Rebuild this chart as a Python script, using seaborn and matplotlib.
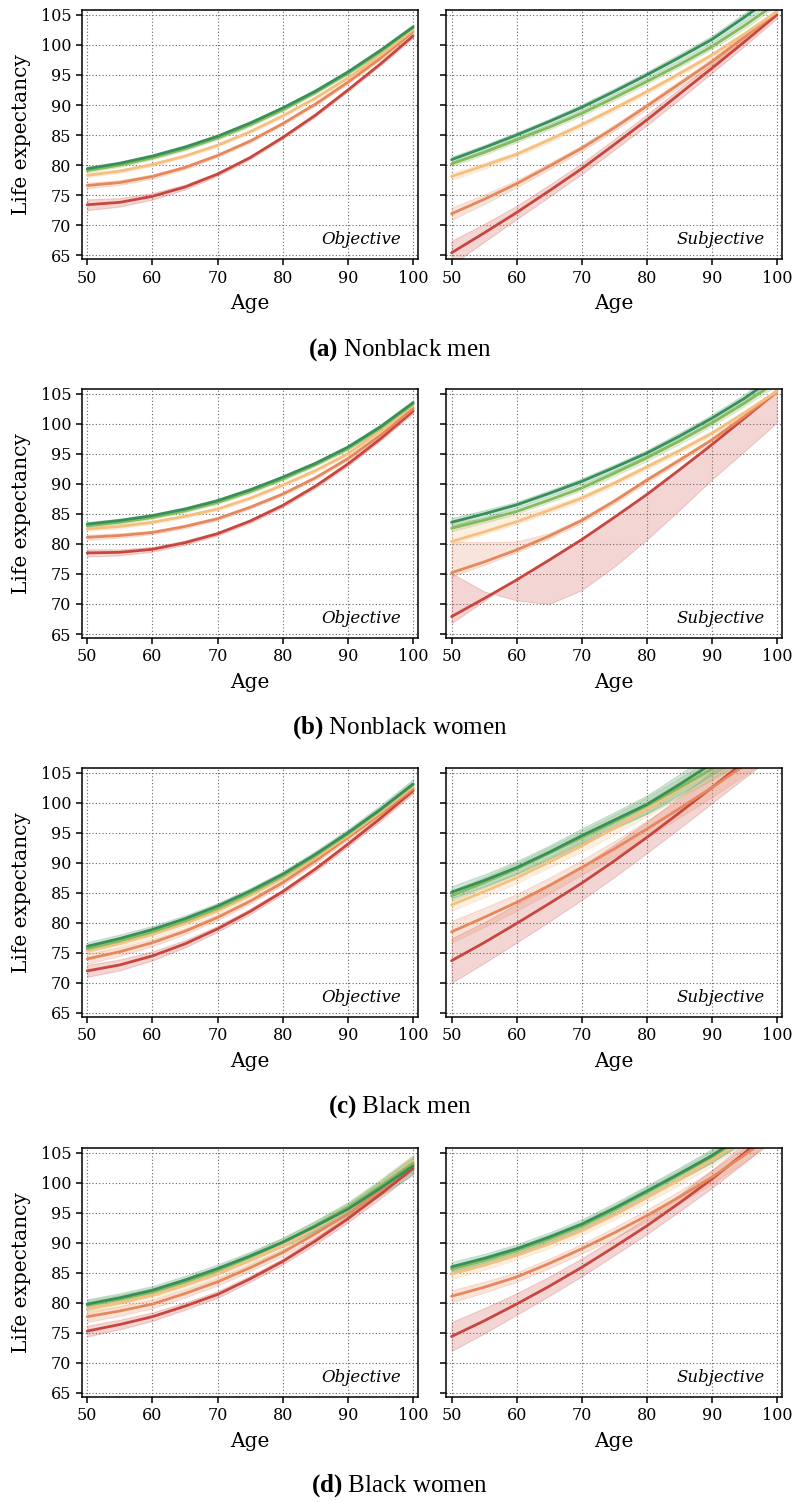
import matplotlib.pyplot as plt
import numpy as np
import pandas as pd
import seaborn as sns

ages = [50, 55, 60, 65, 70, 75, 80, 85, 90, 95, 100]
groups = ['1', '2', '3', '4', '5']
colors = ['#c9463f', '#e6875c', '#f6bf7e', '#86ba5f', '#379059']

# (a) Nonblack men, objective
nbm_obj = [
    [73.4, 73.8, 74.8, 76.35, 78.5, 81.25, 84.6, 88.3, 92.5, 96.85, 101.5],
    [76.6, 77.1, 78.1, 79.6, 81.6, 84.0, 86.9, 90.15, 93.8, 97.8, 102.2],
    [78.3, 79.0, 80.1, 81.5, 83.3, 85.55, 88.2, 91.15, 94.5, 98.3, 102.5],
    [79.1, 80.0, 81.2, 82.7, 84.5, 86.7, 89.2, 92.1, 95.3, 98.9, 102.9],
    [79.4, 80.3, 81.5, 83.0, 84.8, 87.0, 89.5, 92.3, 95.5, 99.1, 103.0],
]
nbm_obj_ci = [
    [0.9, 0.7, 0.55, 0.4, 0.3, 0.25, 0.25, 0.25, 0.25, 0.25, 0.3],
    [0.45, 0.4, 0.35, 0.3, 0.25, 0.25, 0.25, 0.25, 0.25, 0.25, 0.3],
    [0.3, 0.3, 0.25, 0.25, 0.25, 0.25, 0.25, 0.25, 0.25, 0.25, 0.3],
    [0.3, 0.3, 0.25, 0.25, 0.25, 0.25, 0.25, 0.25, 0.25, 0.3, 0.3],
    [0.35, 0.3, 0.3, 0.3, 0.3, 0.3, 0.3, 0.3, 0.3, 0.35, 0.4],
]
# (a) Nonblack men, subjective
nbm_subj = [
    [65.4, 68.7, 72.1, 75.7, 79.4, 83.4, 87.5, 91.8, 96.1, 100.5, 105.0],
    [71.9, 74.3, 76.9, 79.8, 82.8, 86.2, 89.8, 93.5, 97.2, 101.3, 105.5],
    [78.1, 79.9, 81.8, 84.2, 86.7, 89.4, 92.2, 95.2, 98.3, 101.8, 105.5],
    [80.2, 82.1, 84.2, 86.3, 88.6, 91.2, 93.9, 96.7, 99.7, 103.2, 107.0],
    [80.9, 82.9, 85.0, 87.25, 89.6, 92.25, 95.0, 97.9, 100.9, 104.6, 108.5],
]
nbm_subj_ci = [
    [2.0, 1.5, 1.1, 1.0, 0.9, 0.9, 0.9, 0.9, 0.8, 0.7, 0.6],
    [1.0, 0.8, 0.6, 0.5, 0.5, 0.5, 0.5, 0.5, 0.5, 0.5, 0.5],
    [0.6, 0.5, 0.4, 0.4, 0.4, 0.4, 0.4, 0.4, 0.4, 0.4, 0.4],
    [0.4, 0.4, 0.4, 0.4, 0.4, 0.4, 0.4, 0.4, 0.4, 0.5, 0.5],
    [0.5, 0.45, 0.45, 0.45, 0.5, 0.5, 0.55, 0.6, 0.6, 0.7, 0.7],
]

# (b) Nonblack women, objective
nbw_obj = [
    [78.5, 78.6, 79.1, 80.2, 81.7, 83.8, 86.4, 89.6, 93.3, 97.5, 102.1],
    [81.1, 81.4, 81.9, 82.9, 84.2, 86.1, 88.3, 91.0, 94.2, 98.1, 102.5],
    [82.5, 82.9, 83.6, 84.6, 85.8, 87.6, 89.8, 92.2, 95.0, 98.8, 103.1],
    [83.0, 83.6, 84.4, 85.5, 86.9, 88.7, 90.8, 93.2, 95.9, 99.3, 103.3],
    [83.3, 83.9, 84.7, 85.8, 87.2, 89.0, 91.1, 93.4, 96.1, 99.5, 103.5],
]
nbw_obj_ci = [
    [0.6, 0.5, 0.4, 0.35, 0.3, 0.3, 0.3, 0.3, 0.3, 0.3, 0.35],
    [0.4, 0.35, 0.3, 0.3, 0.25, 0.25, 0.25, 0.25, 0.25, 0.3, 0.3],
    [0.3, 0.3, 0.25, 0.25, 0.25, 0.25, 0.25, 0.25, 0.25, 0.3, 0.3],
    [0.3, 0.3, 0.25, 0.25, 0.25, 0.25, 0.25, 0.25, 0.3, 0.3, 0.35],
    [0.35, 0.3, 0.3, 0.3, 0.3, 0.3, 0.3, 0.3, 0.35, 0.4, 0.4],
]
# (b) Nonblack women, subjective (bands read as edges)
nbw_subj = [
    [67.9, 70.9, 74.0, 77.3, 80.7, 84.4, 88.2, 92.3, 96.5, 100.9, 105.4],
    [75.2, 77.0, 79.0, 81.3, 83.9, 87.1, 90.6, 93.9, 97.3, 101.2, 105.4],
    [80.4, 82.0, 83.7, 85.6, 87.6, 90.1, 92.8, 95.5, 98.4, 101.8, 105.4],
    [82.6, 83.95, 85.4, 87.3, 89.3, 91.75, 94.3, 97.1, 100.1, 103.4, 107.0],
    [83.6, 85.0, 86.5, 88.4, 90.4, 92.7, 95.1, 97.9, 100.9, 104.2, 108.0],
]
nbw_subj_lo = [
    [75.1, 72.1, 70.6, 70.0, 72.3, 76.2, 80.7, 85.6, 90.7, 95.4, 100.2],
    [74.6, 76.5, 78.6, 80.9, 83.5, 86.7, 90.2, 93.5, 96.9, 100.8, 105.0],
    [80.0, 81.6, 83.3, 85.2, 87.2, 89.7, 92.4, 95.1, 98.0, 101.4, 105.0],
    [82.1, 83.5, 85.0, 86.9, 88.9, 91.3, 93.8, 96.6, 99.6, 102.9, 106.4],
    [82.9, 84.4, 86.0, 87.9, 89.9, 92.2, 94.6, 97.3, 100.3, 103.5, 107.2],
]
nbw_subj_hi = [
    [66.8, 70.5, 74.3, 77.6, 81.0, 84.7, 88.5, 92.6, 96.8, 101.2, 105.7],
    [80.4, 80.3, 80.4, 81.8, 84.3, 87.5, 91.0, 94.3, 97.7, 101.6, 105.8],
    [84.0, 84.0, 84.8, 86.2, 88.1, 90.5, 93.2, 95.9, 98.8, 102.2, 105.8],
    [83.1, 84.4, 85.8, 87.7, 89.7, 92.2, 94.8, 97.6, 100.6, 103.9, 107.6],
    [84.3, 85.6, 87.0, 88.9, 90.9, 93.2, 95.6, 98.5, 101.5, 104.9, 108.8],
]

# (c) Black men, objective
bm_obj = [
    [72.0, 73.0, 74.5, 76.5, 79.0, 81.9, 85.2, 88.95, 93.1, 97.4, 102.0],
    [74.0, 75.2, 76.7, 78.6, 80.9, 83.6, 86.7, 90.3, 94.2, 98.1, 102.3],
    [75.4, 76.65, 78.1, 79.9, 82.0, 84.6, 87.5, 90.8, 94.5, 98.45, 102.7],
    [75.7, 77.0, 78.5, 80.3, 82.4, 84.95, 87.8, 91.15, 94.8, 98.75, 103.0],
    [76.1, 77.4, 78.9, 80.7, 82.8, 85.3, 88.1, 91.4, 95.0, 98.9, 103.1],
]
bm_obj_ci = [
    [1.0, 0.9, 0.75, 0.6, 0.5, 0.45, 0.4, 0.4, 0.4, 0.45, 0.5],
    [0.8, 0.7, 0.6, 0.5, 0.45, 0.4, 0.4, 0.4, 0.4, 0.5, 0.6],
    [0.7, 0.6, 0.55, 0.5, 0.45, 0.4, 0.4, 0.4, 0.45, 0.5, 0.6],
    [0.6, 0.55, 0.5, 0.45, 0.45, 0.45, 0.45, 0.45, 0.5, 0.55, 0.65],
    [0.7, 0.65, 0.6, 0.55, 0.5, 0.5, 0.5, 0.55, 0.6, 0.7, 0.8],
]
# (c) Black men, subjective
bm_subj = [
    [73.7, 76.7, 79.9, 83.2, 86.6, 90.3, 94.2, 98.3, 102.5, 106.8, 111.0],
    [78.5, 80.9, 83.4, 86.2, 89.2, 92.3, 95.6, 99.0, 102.5, 106.2, 110.0],
    [83.0, 85.2, 87.5, 90.1, 92.8, 95.8, 98.9, 102.2, 105.6, 109.0, 112.5],
    [84.5, 86.7, 89.0, 91.6, 94.2, 96.8, 99.5, 102.5, 105.6, 109.0, 112.5],
    [85.1, 87.05, 89.2, 91.75, 94.5, 97.1, 99.7, 103.0, 106.5, 110.0, 113.5],
]
bm_subj_ci = [
    [3.7, 3.4, 3.2, 3.0, 2.8, 2.7, 2.6, 2.6, 2.6, 2.7, 2.8],
    [1.8, 1.6, 1.4, 1.3, 1.2, 1.3, 1.4, 1.5, 1.6, 1.7, 1.8],
    [1.0, 0.95, 0.9, 0.9, 1.0, 1.1, 1.2, 1.3, 1.4, 1.5, 1.6],
    [0.9, 0.9, 0.95, 1.0, 1.1, 1.2, 1.4, 1.6, 1.8, 2.0, 2.2],
    [1.0, 1.0, 1.05, 1.1, 1.2, 1.3, 1.5, 1.7, 1.9, 2.1, 2.3],
]

# (d) Black women, objective
bw_obj = [
    [75.3, 76.4, 77.7, 79.45, 81.4, 84.0, 86.9, 90.3, 94.0, 98.1, 102.4],
    [77.7, 78.65, 79.8, 81.55, 83.5, 85.85, 88.4, 91.5, 94.8, 98.8, 103.1],
    [79.0, 80.05, 81.3, 82.95, 84.8, 87.05, 89.5, 92.45, 95.6, 99.5, 103.6],
    [79.6, 80.6, 81.8, 83.5, 85.4, 87.65, 90.1, 92.9, 95.9, 99.5, 103.3],
    [79.8, 80.85, 82.1, 83.8, 85.7, 87.8, 90.1, 92.75, 95.6, 99.1, 102.8],
]
bw_obj_ci = [
    [0.9, 0.8, 0.7, 0.6, 0.55, 0.5, 0.5, 0.55, 0.6, 0.7, 0.8],
    [0.9, 0.8, 0.7, 0.65, 0.6, 0.6, 0.6, 0.65, 0.7, 0.8, 0.9],
    [0.8, 0.75, 0.7, 0.65, 0.6, 0.6, 0.65, 0.7, 0.8, 0.9, 1.0],
    [0.8, 0.75, 0.7, 0.65, 0.65, 0.65, 0.7, 0.8, 0.9, 1.1, 1.3],
    [0.8, 0.75, 0.7, 0.7, 0.7, 0.7, 0.75, 0.85, 1.0, 1.2, 1.5],
]
# (d) Black women, subjective
bw_subj = [
    [74.4, 77.0, 79.8, 82.75, 85.9, 89.3, 92.8, 96.6, 100.6, 104.9, 109.5],
    [81.1, 82.6, 84.3, 86.55, 89.0, 91.65, 94.5, 97.6, 100.9, 104.6, 108.5],
    [84.8, 86.25, 87.9, 89.8, 92.0, 94.6, 97.5, 100.5, 103.8, 107.5, 111.0],
    [85.6, 87.05, 88.7, 90.65, 92.8, 95.5, 98.4, 101.3, 104.3, 107.8, 111.3],
    [86.0, 87.4, 89.0, 90.95, 93.1, 95.75, 98.6, 101.5, 104.5, 108.0, 111.5],
]
bw_subj_ci = [
    [2.4, 2.1, 1.8, 1.6, 1.5, 1.4, 1.4, 1.4, 1.5, 1.6, 1.7],
    [1.0, 0.9, 0.8, 0.8, 0.8, 0.9, 1.0, 1.0, 1.1, 1.2, 1.3],
    [0.8, 0.75, 0.7, 0.7, 0.7, 0.75, 0.8, 0.9, 1.0, 1.1, 1.2],
    [0.7, 0.7, 0.7, 0.7, 0.75, 0.8, 0.85, 0.9, 1.0, 1.1, 1.2],
    [0.8, 0.75, 0.75, 0.75, 0.8, 0.85, 0.9, 1.0, 1.1, 1.2, 1.3],
]

captions = [r'$\mathbf{(a)}$ Nonblack men', r'$\mathbf{(b)}$ Nonblack women',
            r'$\mathbf{(c)}$ Black men', r'$\mathbf{(d)}$ Black women']


def bounds(means, ci):
    m = np.array(means)
    c = np.array(ci)
    return m - c, m + c


def draw_panel(ax, means, lows, highs, label, left):
    for lo, hi, c in zip(lows, highs, colors):
        ax.fill_between(ages, lo, hi, color=c, alpha=0.22, linewidth=0.8)
    df = pd.DataFrame({
        'Age': np.tile(ages, len(groups)),
        'LE': np.concatenate(means),
        'group': np.repeat(groups, len(ages)),
    })
    sns.lineplot(data=df, x='Age', y='LE', hue='group', palette=colors,
                 linewidth=2.0, legend=False, ax=ax)
    ax.set_xlim(49.15, 100.75)
    ax.set_ylim(64.33, 105.83)
    ax.set_xticks(range(50, 101, 10))
    ax.set_yticks(range(65, 106, 5))
    ax.grid(True, linestyle=(0, (1, 2)), color='0.4', linewidth=0.8)
    ax.tick_params(labelsize=11.5, length=4, width=1.1, color='black', labelcolor='black')
    for s in ax.spines.values():
        s.set_linewidth(1.1)
        s.set_color('black')
    ax.set_xlabel('Age', fontsize=14.5, labelpad=5.5)
    if left:
        ax.set_ylabel('Life expectancy', fontsize=14.5, labelpad=7)
    else:
        ax.set_ylabel('')
        ax.set_yticklabels([])
    ax.text(0.95, 0.08, label, transform=ax.transAxes, ha='right', va='center',
            style='italic', fontsize=12)


sns.set_style('ticks')
plt.rcParams['font.family'] = ['DejaVu Serif']
plt.rcParams['text.color'] = 'black'
plt.rcParams['axes.labelcolor'] = 'black'
plt.rcParams['mathtext.fontset'] = 'custom'
plt.rcParams['mathtext.bf'] = 'Liberation Serif:bold'
plt.rcParams['mathtext.rm'] = 'Liberation Serif'

fig = plt.figure(figsize=(7.96, 15.02), dpi=100)

panels = [
    (nbm_obj, bounds(nbm_obj, nbm_obj_ci), nbm_subj, bounds(nbm_subj, nbm_subj_ci)),
    (nbw_obj, bounds(nbw_obj, nbw_obj_ci), nbw_subj, (nbw_subj_lo, nbw_subj_hi)),
    (bm_obj, bounds(bm_obj, bm_obj_ci), bm_subj, bounds(bm_subj, bm_subj_ci)),
    (bw_obj, bounds(bw_obj, bw_obj_ci), bw_subj, bounds(bw_subj, bw_subj_ci)),
]
row_bottoms = [0.8274, 0.5752, 0.3229, 0.0699]
caption_y = [0.767, 0.5153, 0.263, 0.0107]
h = 0.166

for i, (obj, obj_b, subj, subj_b) in enumerate(panels):
    ax1 = fig.add_axes([0.1026, row_bottoms[i], 0.4225, h])
    ax2 = fig.add_axes([0.5603, row_bottoms[i], 0.4217, h])
    draw_panel(ax1, obj, obj_b[0], obj_b[1], 'Objective', True)
    draw_panel(ax2, subj, subj_b[0], subj_b[1], 'Subjective', False)
    fig.text(0.502, caption_y[i], captions[i], ha='center', va='center',
             fontsize=18, family='Liberation Serif', color='black')

fig.savefig('out.png', dpi=100)
